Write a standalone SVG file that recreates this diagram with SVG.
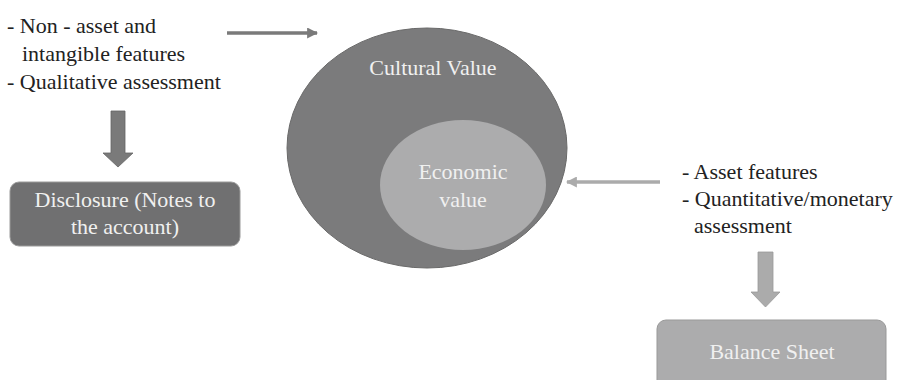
<svg xmlns="http://www.w3.org/2000/svg" width="900" height="380" viewBox="0 0 900 380">
<defs>
<style>
.t{font-family:"Liberation Serif","Times New Roman",serif;font-size:22px;fill:#222}
.w{font-family:"Liberation Serif","Times New Roman",serif;font-size:22px;fill:#f0f0f0;text-anchor:middle}
</style>
<marker id="ahD" viewBox="0 0 10 10" refX="9" refY="5" markerWidth="11" markerHeight="11" markerUnits="userSpaceOnUse" orient="auto"><path d="M0,0 L10,5 L0,10 z" fill="#7a7a7a"/></marker>
<marker id="ahL" viewBox="0 0 10 10" refX="9" refY="5" markerWidth="11" markerHeight="11" markerUnits="userSpaceOnUse" orient="auto"><path d="M0,0 L10,5 L0,10 z" fill="#ababab"/></marker>
</defs>
<rect width="900" height="380" fill="#fff"/>
<g id="cultural">
<ellipse cx="427" cy="148" rx="140" ry="120" fill="#7b7b7c" stroke="#6a6a6a" stroke-width="1"/>
<text class="w" x="433" y="75">Cultural Value</text>
</g>
<g id="economic">
<ellipse cx="463" cy="185" rx="83" ry="65" fill="#acacad"/>
<text class="w" x="463" y="179">Economic</text>
<text class="w" x="463" y="207">value</text>
</g>
<g id="left-text">
<text class="t" x="7" y="33">- Non - asset and</text>
<text class="t" x="22" y="61">intangible features</text>
<text class="t" x="7" y="89">- Qualitative assessment</text>
</g>
<g id="disclosure">
<rect x="10" y="182" width="230" height="64" rx="9" fill="#707071" stroke="#9a9a9a" stroke-width="1"/>
<text class="w" x="125" y="207">Disclosure (Notes to</text>
<text class="w" x="125" y="234">the account)</text>
</g>
<g id="right-text">
<text class="t" x="682" y="179">- Asset features</text>
<text class="t" x="682" y="206">- Quantitative/monetary</text>
<text class="t" x="694" y="233">assessment</text>
</g>
<g id="balance">
<rect x="657" y="320" width="229" height="72" rx="9" fill="#acacad" stroke="#999" stroke-width="1"/>
<text class="w" x="772" y="359">Balance Sheet</text>
</g>
<g id="connectors">
<line x1="227" y1="33" x2="317" y2="33" stroke="#7a7a7a" stroke-width="3.5" marker-end="url(#ahD)"/>
<line x1="660" y1="182" x2="567" y2="182" stroke="#ababab" stroke-width="3.5" marker-end="url(#ahL)"/>
<path d="M111,111 L125,111 L125,153 L133,153 L118,167 L103,153 L111,153 Z" fill="#7a7a7a" stroke="#666" stroke-width="0.8"/>
<path d="M758,252 L773,252 L773,292 L780,292 L765.5,307 L751,292 L758,292 Z" fill="#ababab" stroke="#999" stroke-width="0.8"/>
</g>
</svg>
